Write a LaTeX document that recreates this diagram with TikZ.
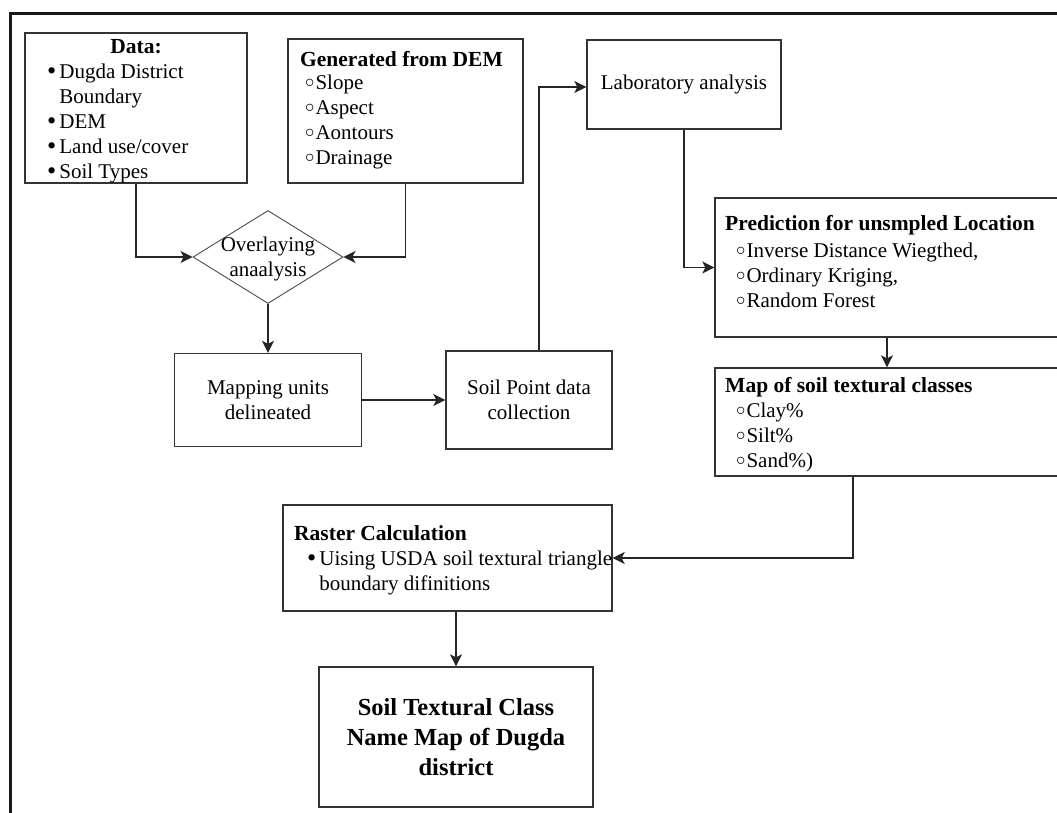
\documentclass[tikz,border=0pt]{standalone}
\usepackage{fontspec}
\setmainfont{Liberation Serif}
\usetikzlibrary{arrows.meta,shapes.geometric,calc}
\newcommand{\obul}{\raisebox{1.5pt}{\scalebox{0.9}{$\circ$}}\hspace{1pt}}
\newcommand{\fbul}{\raisebox{-1.5pt}{\scalebox{1.25}{•}}\hspace{3pt}}
\newcommand{\fbulph}{\phantom{\scalebox{1.25}{•}}\hspace{3pt}}
\begin{document}
\begin{tikzpicture}[x=1pt,y=-1pt,
  box/.style={draw=black!80, line width=1.4pt, inner sep=0pt, align=center,
    font=\fontsize{21}{25}\selectfont},
  conn/.style={line width=1.4pt, draw=black!85, -{Stealth[length=12pt,width=12pt,inset=3pt]}},
  txt/.style={font=\fontsize{21}{25}\selectfont, inner sep=0pt, align=left},
  hdr/.style={font=\bfseries\fontsize{21.5}{25}\selectfont, inner sep=0pt},
]
\clip (0,0) rectangle (1057,812);
\fill[white] (0,0) rectangle (1057,812);
\draw[line width=3pt, black!90] (10.5,1100) -- (10.5,13.5) -- (1100,13.5);

% boxes
\node[box, minimum width=222pt, minimum height=150pt] (data) at (136,108) {};
\node[box, minimum width=235pt, minimum height=144pt] (gen) at (405.5,111) {};
\node[box, minimum width=194pt, minimum height=89pt] (lab) at (684,84.5) {Laboratory analysis};
\node[draw=black!70, line width=0.9pt, diamond, minimum width=150pt, minimum height=93pt,
      inner sep=0pt] (over) at (268,257) {};
\node[inner sep=0pt, align=center, font=\fontsize{21}{25}\selectfont] (overt) at (268,259) {Overlaying\\anaalysis};
\node[box, minimum width=187pt, minimum height=93pt] (mapu) at (268,400) {Mapping units\\delineated};
\node[box, minimum width=166pt, minimum height=98pt] (soil) at (529,400) {Soil Point data\\collection};
\node[box, minimum width=344pt, minimum height=139pt] (pred) at (887,267.5) {};
\node[box, minimum width=344pt, minimum height=108pt] (mapc) at (887,422) {};
\node[box, minimum width=329pt, minimum height=106pt] (raster) at (447.5,558) {};
\node[box, minimum width=274pt, minimum height=140pt,
      font=\bfseries\fontsize{24.5}{30}\selectfont] (final) at (456,737) {Soil Textural Class\\Name Map of Dugda\\district};

% texts in the list boxes
\node[hdr, anchor=base] (datah) at (136,53) {Data:};
\node[txt, anchor=north west] (datal) at (47,60.5) {\strut \fbul Dugda District\\
  \fbulph Boundary\\ \fbul DEM\\ \fbul Land use/cover\\ \fbul Soil Types};

\node[hdr, anchor=base west] (genh) at (300,66) {Generated from DEM};
\node[txt, anchor=north west] (genl) at (305,71.5) {\strut \obul Slope\\ \obul Aspect\\ \obul Aontours\\ \obul Drainage};

\node[hdr, anchor=base west] (predh) at (725,230) {Prediction for unsmpled Location};
\node[txt, anchor=north west] (predl) at (736,239.5) {\strut \obul Inverse Distance Wiegthed,\\ \obul Ordinary Kriging,\\ \obul Random Forest};

\node[hdr, anchor=base west] (mapch) at (725,392) {Map of soil textural classes};
\node[txt, anchor=north west] (mapcl) at (736,399.5) {\strut \obul Clay\%\\ \obul Silt\%\\ \obul Sand\%)};

\node[hdr, anchor=base west] (rasth) at (294,540) {Raster Calculation};
\node[txt, anchor=north west] (rastl) at (307,547.5) {\strut \fbul Uising USDA soil textural triangle\\
  \fbulph boundary difinitions};

% connectors
\draw[conn] (data.south) |- (over.west);
\draw[conn] (gen.south) |- (over.east);
\draw[conn] (over.south) -- (mapu.north);
\draw[conn] (mapu.east) -- (soil.west);
\draw[conn] ([xshift=10pt]soil.north) |- ([yshift=-2.5pt]lab.west);
\draw[conn] (lab.south) |- (pred.west);
\draw[conn] (pred.south) -- (mapc.north);
\draw[conn] ([xshift=-34pt]mapc.south) |- (raster.east);
\draw[conn] (raster.south -| final.north) -- (final.north);
\end{tikzpicture}
\end{document}
